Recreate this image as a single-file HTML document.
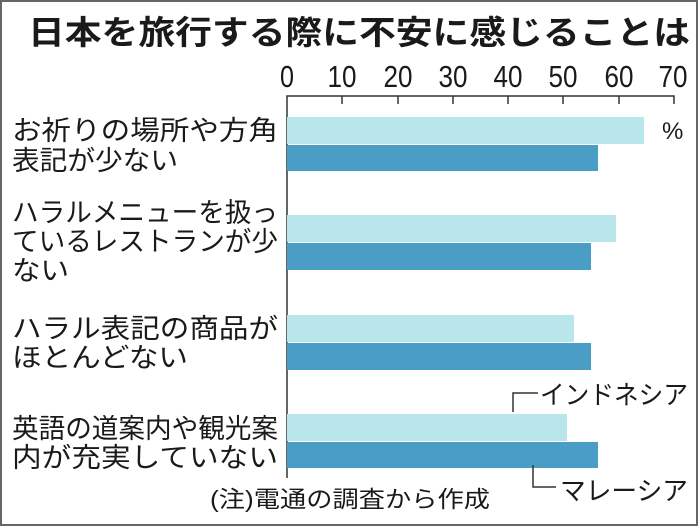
<!DOCTYPE html>
<html><head><meta charset="utf-8"><style>
html,body{margin:0;padding:0;background:#fff}
svg{display:block}
text{font-family:"Liberation Sans","Noto Sans CJK JP",sans-serif;fill:#1a1a1a}
</style></head><body>
<svg width="698" height="526" viewBox="0 0 698 526" xmlns="http://www.w3.org/2000/svg">
<rect x="1" y="1" width="696" height="524" fill="#fff" stroke="#666" stroke-width="2"/>
<text x="28" y="44" font-size="33" font-weight="bold" textLength="662" lengthAdjust="spacingAndGlyphs">日本を旅行する際に不安に感じることは</text>
<g font-size="31" text-anchor="middle">
<text x="287" y="87" textLength="14" lengthAdjust="spacingAndGlyphs">0</text>
<text x="342" y="87" textLength="29" lengthAdjust="spacingAndGlyphs">10</text>
<text x="398" y="87" textLength="29" lengthAdjust="spacingAndGlyphs">20</text>
<text x="453" y="87" textLength="29" lengthAdjust="spacingAndGlyphs">30</text>
<text x="508" y="87" textLength="29" lengthAdjust="spacingAndGlyphs">40</text>
<text x="563" y="87" textLength="29" lengthAdjust="spacingAndGlyphs">50</text>
<text x="619" y="87" textLength="29" lengthAdjust="spacingAndGlyphs">60</text>
<text x="673" y="87" textLength="29" lengthAdjust="spacingAndGlyphs">70</text>
</g>
<g stroke="#333" stroke-width="1.5" fill="none">
<path d="M287 478 V96 H674 V104"/>
<path d="M342 96 V104 M398 96 V104 M453 96 V104 M508 96 V104 M563 96 V104 M619 96 V104"/>
</g>
<g fill="#b8e6ea">
<rect x="287" y="117" width="357" height="27"/>
<rect x="287" y="215" width="329" height="27"/>
<rect x="287" y="315" width="287" height="27"/>
<rect x="287" y="414" width="280" height="27"/>
</g>
<g fill="#4a9ec6">
<rect x="287" y="145" width="311" height="26"/>
<rect x="287" y="243" width="304" height="27"/>
<rect x="287" y="343" width="304" height="27"/>
<rect x="287" y="442" width="311" height="26"/>
</g>
<text x="662" y="139" font-size="24">%</text>
<g font-size="27">
<text x="12" y="140" textLength="266" lengthAdjust="spacingAndGlyphs">お祈りの場所や方角</text>
<text x="12" y="170" textLength="166" lengthAdjust="spacingAndGlyphs">表記が少ない</text>
<text x="12" y="222" textLength="266" lengthAdjust="spacingAndGlyphs">ハラルメニューを扱っ</text>
<text x="12" y="251" textLength="266" lengthAdjust="spacingAndGlyphs">ているレストランが少</text>
<text x="12" y="280" textLength="57" lengthAdjust="spacingAndGlyphs">ない</text>
<text x="12" y="338" textLength="266" lengthAdjust="spacingAndGlyphs">ハラル表記の商品が</text>
<text x="12" y="367" textLength="176" lengthAdjust="spacingAndGlyphs">ほとんどない</text>
<text x="12" y="438" textLength="266" lengthAdjust="spacingAndGlyphs">英語の道案内や観光案</text>
<text x="12" y="467" textLength="266" lengthAdjust="spacingAndGlyphs">内が充実していない</text>
</g>
<text x="210" y="507" font-size="23" textLength="280" lengthAdjust="spacingAndGlyphs">(注)電通の調査から作成</text>
<g stroke="#333" stroke-width="1.5" fill="none">
<path d="M513 412 V393 H538"/>
<path d="M533 465 V487 H556"/>
</g>
<text x="540" y="404" font-size="26" textLength="148" lengthAdjust="spacingAndGlyphs">インドネシア</text>
<text x="560" y="500" font-size="26" textLength="128" lengthAdjust="spacingAndGlyphs">マレーシア</text>
</svg>
</body></html>
